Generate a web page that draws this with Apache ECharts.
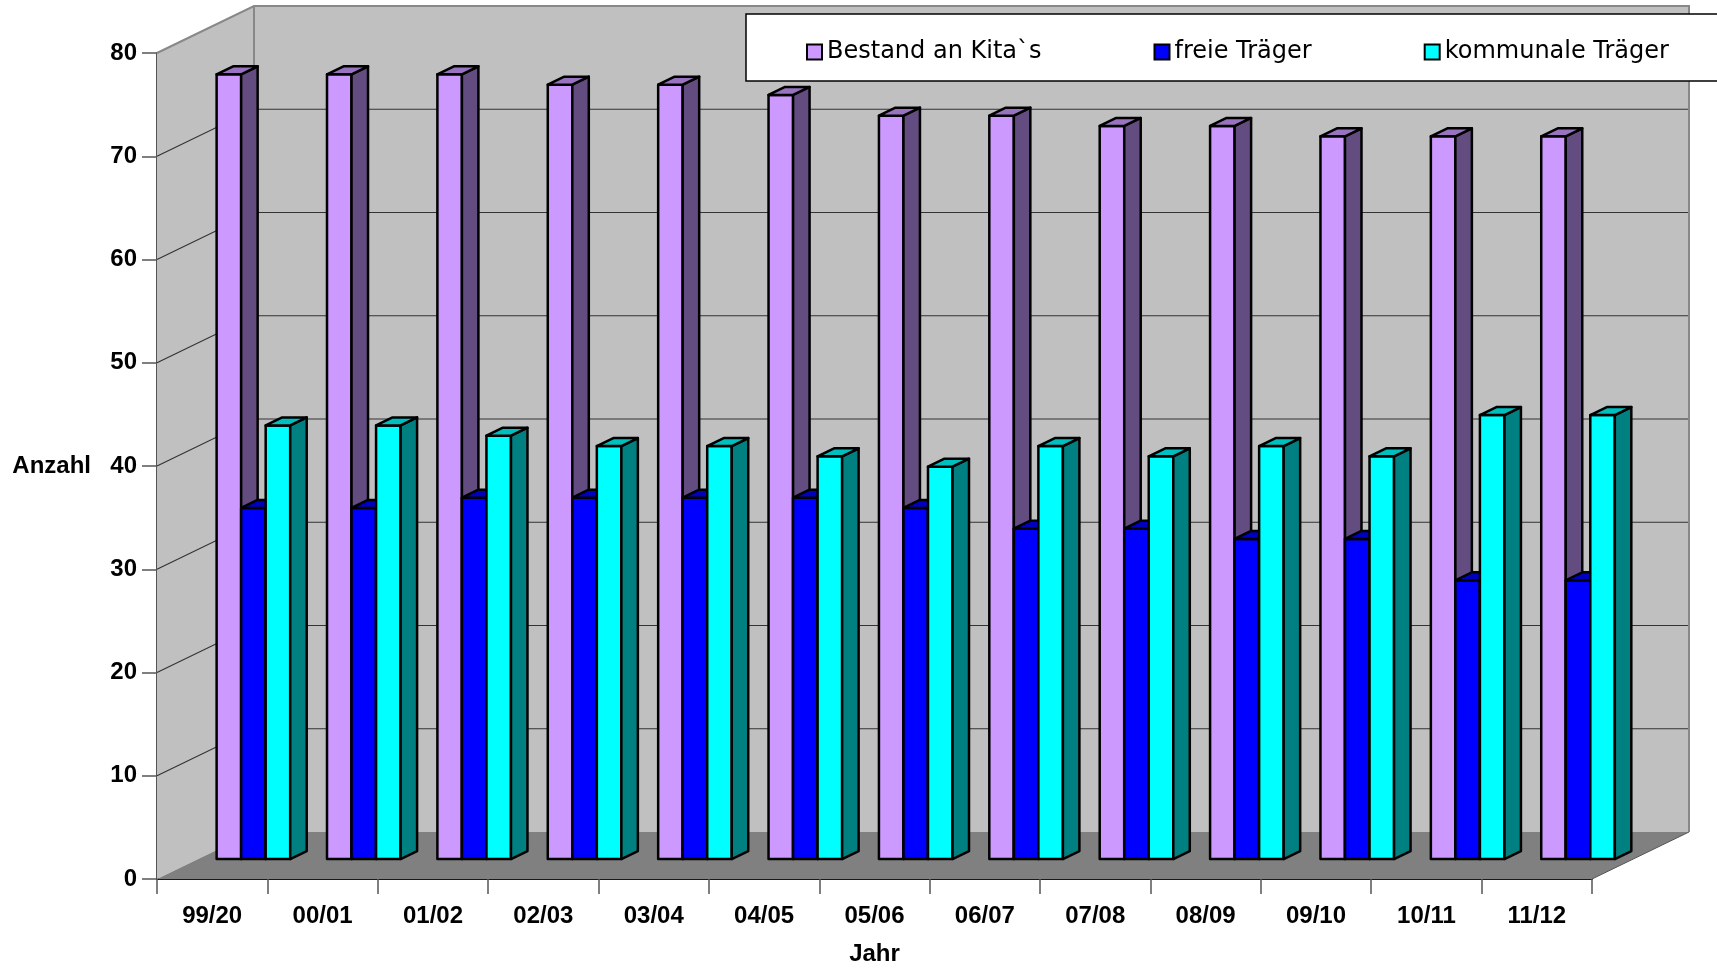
<!DOCTYPE html>
<html>
<head>
<meta charset="utf-8">
<title>Kitas nach Trägern</title>
<script src="https://cdn.jsdelivr.net/npm/echarts@6/dist/echarts.min.js"></script>
<style>
  html, body { margin: 0; padding: 0; background: #ffffff; }
  #chart { width: 1717px; height: 971px; }
</style>
</head>
<body>
<div id="chart"></div>
<script>
// School years on the category axis
const CATEGORIES = ['99/20', '00/01', '01/02', '02/03', '03/04', '04/05', '05/06',
                    '06/07', '07/08', '08/09', '09/10', '10/11', '11/12'];

// Number of day-care centres per year
const BESTAND   = [76, 76, 76, 75, 75, 74, 72, 72, 71, 71, 70, 70, 70];
const FREIE     = [34, 34, 35, 35, 35, 35, 34, 32, 32, 31, 31, 27, 27];
const KOMMUNALE = [42, 42, 41, 40, 40, 39, 38, 40, 39, 40, 39, 43, 43];

const SERIES_NAMES = ['Bestand an Kita`s', 'freie Träger', 'kommunale Träger'];
const Y_TICKS = [0, 10, 20, 30, 40, 50, 60, 70, 80];

// Oblique projection of the box: depth offset of back wall in pixels
const DEPTH = [97, -47];
const BAR_FRONT = 0.425;   // bars sit at this fraction of the floor depth
const BAR_DEPTH = 0.17;    // bar thickness as fraction of the floor depth

// Shades per series: front face, top face, side face
const SHADES = [
  { front: '#CC99FF', top: '#9973BF', side: '#634C7F' },
  { front: '#0000FF', top: '#0000BF', side: '#000080' },
  { front: '#00FFFF', top: '#00BFBF', side: '#008080' }
];

const chart = echarts.init(document.getElementById('chart'), null, { renderer: 'canvas' });

// Walls, floor and grid lines of the 3D box
function renderFrame(params, api) {
  const cs = params.coordSys;
  const dx = DEPTH[0], dy = DEPTH[1];
  const xL = cs.x, xR = cs.x + cs.width;
  const yTop = api.coord([0, Y_TICKS[Y_TICKS.length - 1]])[1];
  const yBot = api.coord([0, Y_TICKS[0]])[1];
  const children = [];
  // back wall
  children.push({ type: 'polygon', shape: { points: [[xL + dx, yTop + dy], [xR + dx, yTop + dy], [xR + dx, yBot + dy], [xL + dx, yBot + dy]] },
                  style: { fill: '#C0C0C0' } });
  // left wall
  children.push({ type: 'polygon', shape: { points: [[xL, yTop], [xL + dx, yTop + dy], [xL + dx, yBot + dy], [xL, yBot]] },
                  style: { fill: '#C0C0C0' } });
  // floor
  children.push({ type: 'polygon', shape: { points: [[xL, yBot], [xL + dx, yBot + dy], [xR + dx, yBot + dy], [xR, yBot]] },
                  style: { fill: '#808080' } });
  // grid lines: diagonal on the left wall, horizontal on the back wall
  Y_TICKS.slice(1, -1).forEach(function (v) {
    const y = api.coord([0, v])[1];
    children.push({ type: 'polyline', shape: { points: [[xL, y], [xL + dx, y + dy], [xR + dx, y + dy]] },
                    style: { fill: null, stroke: '#333333', lineWidth: 1.2 } });
  });
  // outer edges of the box
  children.push({ type: 'polyline', shape: { points: [[xL, yTop], [xL + dx, yTop + dy], [xR + dx, yTop + dy], [xR + dx, yBot + dy]] },
                  style: { fill: null, stroke: '#888888', lineWidth: 2 } });
  children.push({ type: 'line', shape: { x1: xL + dx, y1: yTop + dy, x2: xL + dx, y2: yBot + dy },
                  style: { stroke: '#888888', lineWidth: 2 } });
  children.push({ type: 'line', shape: { x1: xR, y1: yBot, x2: xR + dx, y2: yBot + dy },
                  style: { stroke: '#555555', lineWidth: 1 } });
  return { type: 'group', children: children };
}

// A 3D column: front face, side face and top face
function makeBarRenderer(k) {
  const shade = SHADES[k];
  return function (params, api) {
    const idx = api.value(0);
    const val = api.value(1);
    const base = api.coord([idx, 0]);
    const top = api.coord([idx, val]);
    const band = api.size([1, 0])[0];
    const w = band * 2 / 9;
    const ox = DEPTH[0] * BAR_FRONT, oy = DEPTH[1] * BAR_FRONT;
    const bx = DEPTH[0] * BAR_DEPTH, by = DEPTH[1] * BAR_DEPTH;
    const x0 = base[0] - 1.5 * w + k * w + ox;
    const x1 = x0 + w;
    const yB = base[1] + oy;
    const yT = top[1] + oy;
    const stroke = { stroke: '#000000', lineWidth: 2.5, lineJoin: 'round' };
    return {
      type: 'group',
      children: [
        { type: 'polygon', shape: { points: [[x0, yT], [x1, yT], [x1, yB], [x0, yB]] },
          style: Object.assign({ fill: shade.front }, stroke) },
        { type: 'polygon', shape: { points: [[x1, yT], [x1 + bx, yT + by], [x1 + bx, yB + by], [x1, yB]] },
          style: Object.assign({ fill: shade.side }, stroke) },
        { type: 'polygon', shape: { points: [[x0, yT], [x0 + bx, yT + by], [x1 + bx, yT + by], [x1, yT]] },
          style: Object.assign({ fill: shade.top }, stroke) }
      ]
    };
  };
}

const VALUES = [BESTAND, FREIE, KOMMUNALE];

const barSeries = VALUES.map(function (arr, k) {
  return {
    type: 'custom',
    name: SERIES_NAMES[k],
    coordinateSystem: 'cartesian2d',
    renderItem: makeBarRenderer(k),
    itemStyle: { color: SHADES[k].front },
    encode: { x: 0, y: 1 },
    data: arr.map(function (v, i) { return [i, v]; }),
    clip: false,
    z: 3
  };
});

const AXIS_FONT = { fontFamily: 'Liberation Sans, Arial, sans-serif', fontSize: 24, fontWeight: 'bold', color: '#000000' };

const option = {
  animation: false,
  backgroundColor: '#ffffff',
  grid: { left: 157, top: 53, width: 1435, height: 829, containLabel: false },
  graphic: [{
    type: 'rect', z: 5,
    shape: { x: 746, y: 14, width: 1000, height: 67 },
    style: { fill: '#ffffff', stroke: '#000000', lineWidth: 1.5 }
  }],
  legend: {
    data: SERIES_NAMES,
    left: 806, top: 40,
    padding: 0,
    z: 6,
    icon: 'rect',
    itemWidth: 15, itemHeight: 15,
    itemGap: 112,
    itemStyle: { borderColor: '#000000', borderWidth: 2 },
    textStyle: { fontFamily: 'DejaVu Sans, sans-serif', fontSize: 24, color: '#000000' }
  },
  xAxis: {
    type: 'category',
    data: CATEGORIES,
    boundaryGap: true,
    name: 'Jahr',
    nameLocation: 'middle',
    nameGap: 63,
    nameTextStyle: AXIS_FONT,
    axisLine: { show: true, lineStyle: { color: '#1a1a1a', width: 2 } },
    axisTick: { show: true, length: 15, interval: 0, lineStyle: { color: '#555555', width: 1.5 } },
    axisLabel: Object.assign({ interval: 0, margin: 25 }, AXIS_FONT),
    splitLine: { show: false }
  },
  yAxis: {
    type: 'value',
    min: 0, max: 80, interval: 10,
    name: 'Anzahl',
    nameLocation: 'middle',
    nameRotate: 0,
    nameGap: 66,
    nameTextStyle: AXIS_FONT,
    axisLine: { show: true, lineStyle: { color: '#555555', width: 2 } },
    axisTick: { show: true, length: 15, lineStyle: { color: '#555555', width: 1.5 } },
    axisLabel: Object.assign({ margin: 20 }, AXIS_FONT),
    splitLine: { show: false }
  },
  series: [{
    type: 'custom',
    name: 'frame',
    coordinateSystem: 'cartesian2d',
    renderItem: renderFrame,
    data: [[0, 0]],
    encode: { x: 0, y: 1 },
    clip: false,
    silent: true,
    z: 1
  }].concat(barSeries)
};

chart.setOption(option);
</script>
</body>
</html>
